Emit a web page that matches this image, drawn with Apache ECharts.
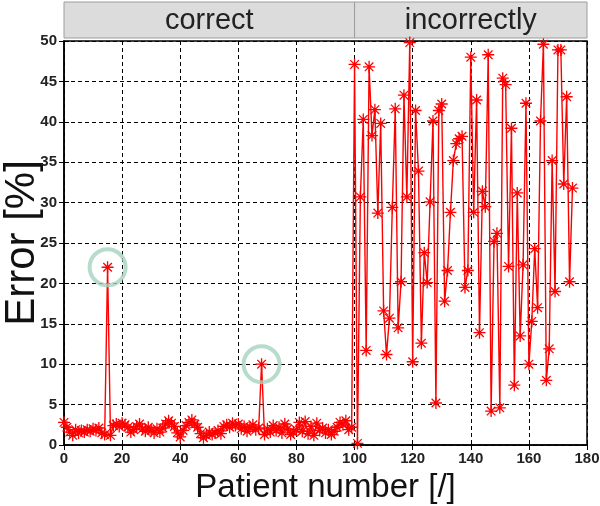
<!DOCTYPE html>
<html>
<head>
<meta charset="utf-8">
<script src="https://cdn.jsdelivr.net/npm/echarts@6/dist/echarts.min.js"></script>
<style>
html,body{margin:0;padding:0;background:#fff;}
#chart{width:600px;height:506px;}
</style>
</head>
<body>
<div id="chart"></div>
<script>
// ---- data ----
const correctStart = 0;
const correctErrors = [
  2.8, 2.2, 1.6, 1.2, 1.9, 1.5, 1.8, 1.6, 1.9, 1.7,
  2.0, 1.8, 2.1, 1.5, 1.3, 22.0, 1.2, 2.4, 2.6, 2.3,
  2.7, 2.5, 2.2, 1.6, 1.9, 2.3, 2.6, 2.0, 1.7, 2.2,
  1.8, 1.5, 2.0, 1.6, 2.1, 2.6, 3.0, 2.7, 2.3, 1.5,
  1.0, 1.8, 2.4, 2.8, 3.1, 2.6, 2.2, 1.4, 0.9, 1.2,
  1.6, 1.3, 1.5, 1.8, 1.4, 2.3, 2.5, 2.2, 2.7, 2.4,
  2.6, 2.0, 2.3, 1.7, 2.2, 2.5, 1.9, 2.1, 10.0, 1.3,
  2.0, 1.6, 2.4, 1.8, 2.2, 1.5, 2.6, 2.0, 1.3, 1.6,
  1.9, 2.8, 1.7, 2.9, 1.4, 2.3, 1.2, 2.7, 1.8, 2.1,
  1.5, 1.9, 1.3, 1.7, 2.2, 2.8, 2.5, 3.0, 1.9, 2.2
];
const incorrectStart = 100;
const incorrectErrors = [
  47.1, 0.2, 30.7, 40.3, 11.7, 46.8, 38.3, 41.5, 28.7, 39.8,
  16.6, 11.2, 15.7, 29.4, 41.6, 14.5, 20.2, 43.3, 30.7, 49.8,
  10.3, 41.4, 33.9, 12.6, 23.8, 20.1, 30.1, 40.1, 5.2, 41.4,
  42.2, 17.8, 21.6, 28.8, 35.2, 37.3, 37.9, 38.2, 19.5, 21.6,
  48.0, 28.8, 42.7, 13.9, 31.4, 29.5, 48.3, 4.2, 25.2, 26.2,
  4.6, 45.4, 44.6, 22.1, 39.2, 7.4, 31.2, 13.5, 22.3, 42.3,
  10.0, 15.3, 24.3, 17.0, 40.1, 49.6, 8.0, 11.9, 35.2, 19.0,
  48.9, 48.9, 32.3, 43.1, 20.2, 31.8
];
const highlightedPatients = [15, 68];
const headerLabels = ['correct', 'incorrectly'];
const headerEdges = [0, 100, 180];
const xMin = 0, xMax = 180, xStep = 20;
const yMin = 0, yMax = 50, yStep = 5;
const xTitle = 'Patient number [/]';
const yTitle = 'Error [%]';

// ---- build ----
const points = correctErrors.map((v, i) => [correctStart + i, v])
  .concat(incorrectErrors.map((v, i) => [incorrectStart + i, v]));
const lookup = {};
points.forEach(p => { lookup[p[0]] = p[1]; });
const circles = highlightedPatients.map(p => [p, lookup[p]]);
const headerData = headerLabels.map((t, i) => [headerEdges[i], headerEdges[i + 1], t]);

const FONT = '"Liberation Sans", Arial, sans-serif';
const asterisk = 'path://M8.9,0H11.1V20H8.9Z M0,8.9H20V11.1H0Z M3.6,2.1L17.9,16.4L16.4,17.9L2.1,3.6Z M16.4,2.1L17.9,3.6L3.6,17.9L2.1,16.4Z';
const dashed = { show: true, lineStyle: { color: '#000', width: 1, type: [4, 3] } };

const chart = echarts.init(document.getElementById('chart'), null, { renderer: 'canvas' });
chart.setOption({
  animation: false,
  backgroundColor: '#fff',
  grid: [
    { left: 64, right: 13, top: 41, bottom: 61, containLabel: false, outerBoundsMode: 'none',
      show: true, borderColor: '#000', borderWidth: 1.5, backgroundColor: 'transparent' },
    { left: 64, right: 13, top: 2, height: 36, containLabel: false, outerBoundsMode: 'none' }
  ],
  xAxis: [
    {
      gridIndex: 0, type: 'value', min: xMin, max: xMax, interval: xStep,
      name: xTitle, nameLocation: 'middle', nameGap: 26, nameMoveOverlap: false,
      nameTextStyle: { fontFamily: FONT, fontSize: 33, color: '#111' },
      axisLine: { show: true, lineStyle: { color: '#000', width: 1.5 } },
      axisTick: { show: true, inside: true, length: 5, lineStyle: { color: '#000' } },
      axisLabel: { fontFamily: FONT, fontSize: 15, fontWeight: 'bold', color: '#222', margin: 6 },
      splitLine: dashed
    },
    {
      gridIndex: 0, type: 'value', min: xMin, max: xMax, interval: xStep, position: 'top',
      axisLine: { show: false }, axisTick: { show: true, inside: true, length: 5, lineStyle: { color: '#000' } },
      axisLabel: { show: false }, splitLine: { show: false }
    },
    {
      gridIndex: 1, type: 'value', min: xMin, max: xMax, show: false
    }
  ],
  yAxis: [
    {
      gridIndex: 0, type: 'value', min: yMin, max: yMax, interval: yStep,
      name: yTitle, nameLocation: 'middle', nameGap: 21, nameRotate: 90, nameMoveOverlap: false,
      nameTextStyle: { fontFamily: FONT, fontSize: 42, color: '#111' },
      axisLine: { show: true, lineStyle: { color: '#000', width: 1.5 } },
      axisTick: { show: true, inside: true, length: 5, lineStyle: { color: '#000' } },
      axisLabel: { fontFamily: FONT, fontSize: 15, fontWeight: 'bold', color: '#222', margin: 7 },
      splitLine: dashed
    },
    {
      gridIndex: 0, type: 'value', min: yMin, max: yMax, interval: yStep, position: 'right',
      axisLine: { show: false }, axisTick: { show: true, inside: true, length: 5, lineStyle: { color: '#000' } },
      axisLabel: { show: false }, splitLine: { show: false }
    },
    { gridIndex: 1, type: 'value', min: 0, max: 1, show: false }
  ],
  series: [
    {
      type: 'custom', xAxisIndex: 2, yAxisIndex: 2, silent: true,
      data: headerData,
      renderItem: function (params, api) {
        const a = api.coord([api.value(0), 1]);
        const b = api.coord([api.value(1), 0]);
        return {
          type: 'group',
          children: [
            { type: 'rect', shape: { x: a[0], y: a[1], width: b[0] - a[0], height: b[1] - a[1] },
              style: { fill: '#dcdcdc', stroke: '#9c9c9c', lineWidth: 1 } },
            { type: 'text', style: { text: headerLabels[params.dataIndex], x: (a[0] + b[0]) / 2, y: (a[1] + b[1]) / 2 + 1,
              textAlign: 'center', textVerticalAlign: 'middle', font: '29px ' + FONT, fill: '#222' } }
          ]
        };
      }
    },
    {
      type: 'line', xAxisIndex: 0, yAxisIndex: 0,
      data: points,
      showAllSymbol: true,
      symbol: asterisk, symbolSize: 12,
      lineStyle: { color: '#ff0000', width: 1.4 },
      itemStyle: { color: '#ff0000' },
      z: 3
    },
    {
      type: 'scatter', xAxisIndex: 0, yAxisIndex: 0,
      data: circles,
      symbol: 'circle', symbolSize: 36,
      itemStyle: { color: 'rgba(0,0,0,0)', borderColor: '#a5d3bf', borderWidth: 4 },
      z: 4
    }
  ]
});
</script>
</body>
</html>
